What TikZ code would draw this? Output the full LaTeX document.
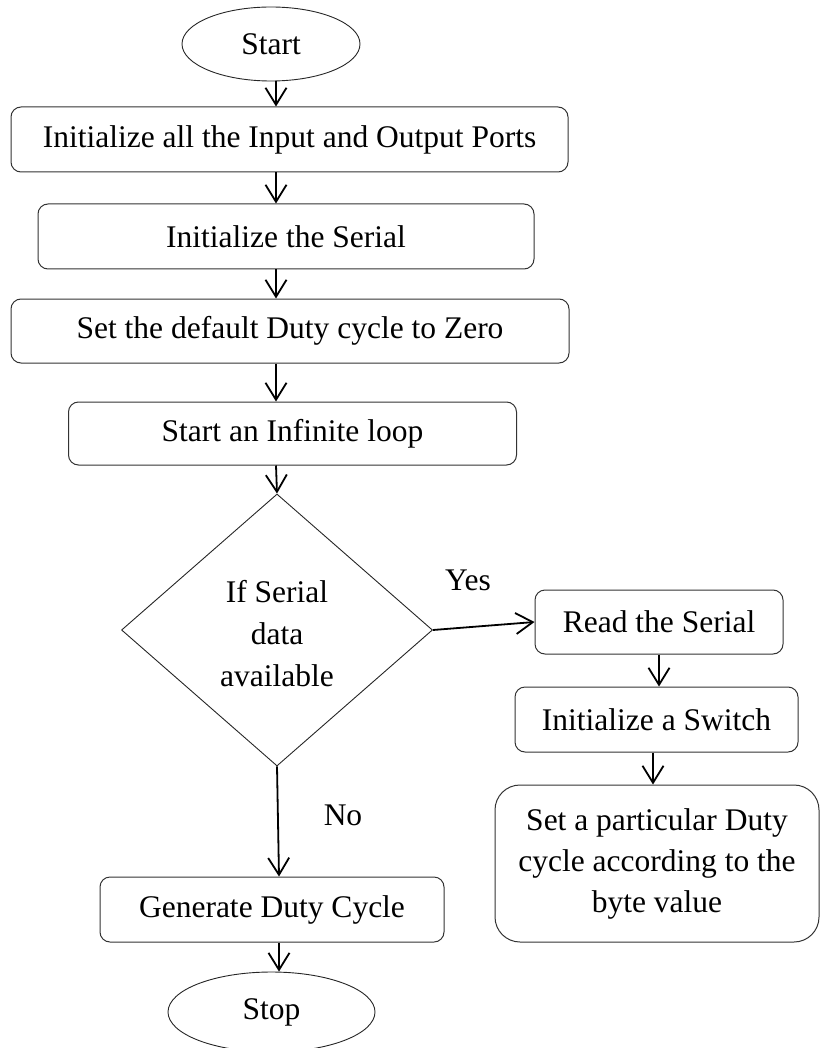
\documentclass[tikz,border=0pt]{standalone}
\usepackage{fontspec}
\setmainfont{Liberation Serif}
\usetikzlibrary{shapes.geometric,arrows.meta}
\begin{document}
\begin{tikzpicture}[x=1pt,y=-1pt,
  every node/.style={font=\fontsize{31.5}{42}\selectfont},
  box/.style={draw=black!80, line width=1pt, rounded corners=10pt, inner sep=0pt, align=center},
  term/.style={draw=black!85, line width=0.9pt, ellipse, inner sep=0pt},
  arr/.style={-{Straight Barb[length=17pt,width=21pt]}, line width=1.8pt}]
\useasboundingbox (0,0) rectangle (820,1048);
\coordinate (colA) at (276,0);
\coordinate (colG) at (279,0);
\coordinate (colR) at (659,0);
\coordinate (colS) at (653,0);
\node[term, minimum width=178pt, minimum height=74pt] (start) at (271,44) {Start};
\node[box, minimum width=557pt, minimum height=65pt] (b1) at (289.5,139.5) {Initialize all the Input and Output Ports};
\node[box, minimum width=496pt, minimum height=65pt] (b2) at (286,236.5) {Initialize the Serial};
\node[box, minimum width=558pt, minimum height=64pt] (b3) at (290,331) {Set the default Duty cycle to Zero};
\node[box, minimum width=448pt, minimum height=63pt] (b4) at (292.5,433.5) {Start an Infinite loop};
\node[draw=black!85, line width=0.9pt, diamond, inner sep=0pt, minimum width=311pt, minimum height=272pt] (dec) at (277,630) {};
\node[align=center] (dectext) at (277,634) {If Serial\\data\\available};
\node (yes) at (468,580) {Yes};
\node (no) at (343,815) {No};
\node[box, minimum width=248pt, minimum height=64pt] (read) at (659,622) {Read the Serial};
\node[box, minimum width=283pt, minimum height=65pt] (sw) at (656.5,719.5) {Initialize a Switch};
\node[box, rounded corners=25pt, minimum width=324pt, minimum height=157pt, font=\fontsize{31.5}{41}\selectfont] (set) at (657,863.5) {Set a particular Duty\\cycle according to the\\byte value};
\node[box, minimum width=344pt, minimum height=65pt] (gen) at (272,909.5) {Generate Duty Cycle};
\node[term, minimum width=207pt, minimum height=80pt] (stop) at (271.5,1012) {Stop};
\draw[arr] (start.south -| colA) -- (b1.north -| colA);
\draw[arr] (b1.south -| colA) -- (b2.north -| colA);
\draw[arr] (b2.south -| colA) -- (b3.north -| colA);
\draw[arr] (b3.south -| colA) -- (b4.north -| colA);
\draw[arr] (b4.south -| colA) -- (dec.north);
\draw[arr] (dec.east) -- (read.west);
\draw[arr] (read.south -| colR) -- (sw.north -| colR);
\draw[arr] (sw.south -| colS) -- (set.north -| colS);
\draw[arr] (dec.south) -- (gen.north -| colG);
\draw[arr] (gen.south -| colG) -- (stop.north -| colG);
\end{tikzpicture}
\end{document}
